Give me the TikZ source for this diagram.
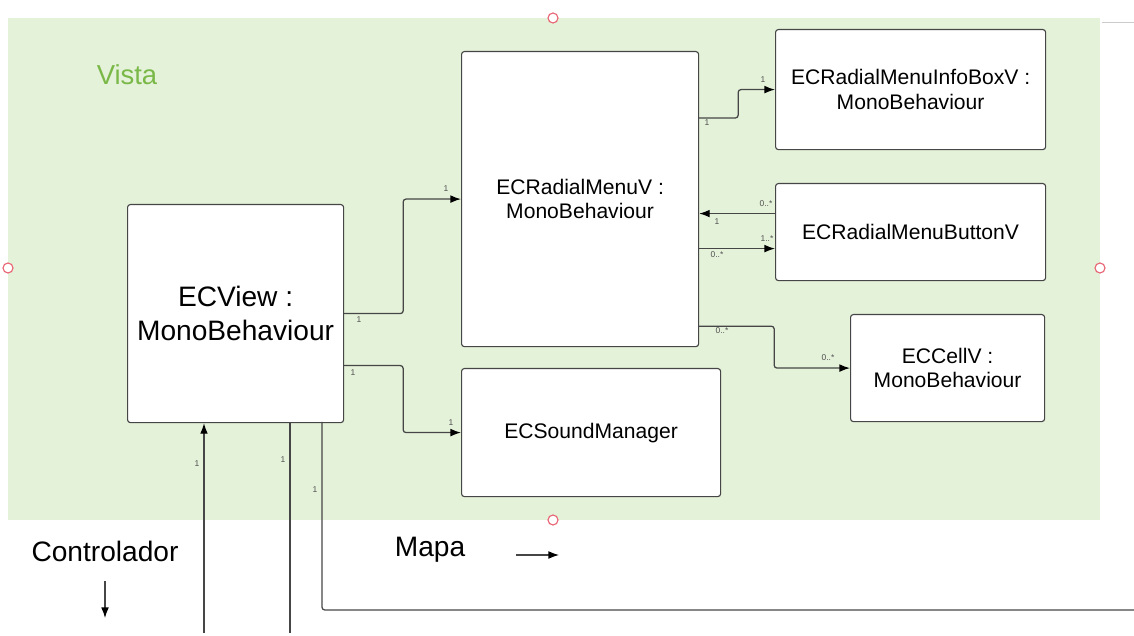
\documentclass[tikz,border=0pt]{standalone}
\usepackage{fontspec}
\setmainfont{Liberation Sans}
\usetikzlibrary{arrows.meta,calc}
\definecolor{bggreen}{RGB}{229,242,218}
\definecolor{vistagreen}{RGB}{122,184,72}
\definecolor{linegray}{RGB}{70,70,70}
\definecolor{handlered}{RGB}{232,100,115}
\definecolor{labelgray}{RGB}{80,80,80}
\tikzset{
  box/.style={draw=linegray, line width=0.8pt, fill=white, rounded corners=2pt, anchor=north west, align=center, inner sep=2pt},
  bigtext/.style={font=\fontsize{20}{24}\selectfont},
  midtext/.style={font=\fontsize{15}{17.5}\selectfont},
  conn/.style={draw=linegray, line width=0.9pt, rounded corners=2pt, -{Latex[length=7.5pt,width=5.5pt,color=black,fill=black]}},
  plainconn/.style={draw=linegray, line width=0.9pt, rounded corners=2pt},
  lbl/.style={font=\fontsize{6}{7}\selectfont, text=labelgray, inner sep=0pt},
  handle/.style={draw=handlered, line width=0.8pt, fill=white},
  legend/.style={font=\fontsize{20}{24}\selectfont, inner sep=0pt}
}
\begin{document}
\begin{tikzpicture}[x=0.025cm,y=-0.025cm]
\useasboundingbox (0,0) rectangle (1134,636);
% background
\fill[bggreen] (8,18) rectangle (1100,520);
\draw[black!20, line width=0.6pt] (1102,22) -- (1134,22);
\node[text=vistagreen, font=\fontsize{19.5}{22}\selectfont, inner sep=0pt] (vista) at (127,75) {Vista};

% boxes
\node[box, bigtext, minimum width=5.4cm, minimum height=5.45cm] (ecv) at (127,204) {ECView :\\MonoBehaviour};
\node[box, midtext, minimum width=5.925cm, minimum height=7.375cm] (rmv) at (461,51) {ECRadialMenuV :\\MonoBehaviour};
\node[box, midtext, minimum width=6.475cm, minimum height=3.2cm] (snd) at (461,368) {ECSoundManager};
\node[box, midtext, minimum width=6.75cm, minimum height=3.0cm] (info) at (775,29) {ECRadialMenuInfoBoxV :\\MonoBehaviour};
\node[box, midtext, minimum width=6.75cm, minimum height=2.425cm] (btn) at (775,183) {ECRadialMenuButtonV};
\node[box, midtext, minimum width=4.85cm, minimum height=2.675cm] (cell) at (850,314) {ECCellV :\\MonoBehaviour};

% connectors
\draw[conn] (ecv.east) -- ++(59,0) |- (rmv.west);
\coordinate (e2) at ($(ecv.east)+(0,52)$);
\draw[conn] (e2) -- ++(59,0) |- (snd.west);
\coordinate (r1) at ($(rmv.north east)+(0,67)$);
\draw[conn] (r1) -- ++(39,0) |- (info.west);
\coordinate (b1) at ($(btn.west)+(0,-18.5)$);
\draw[conn] (b1) -- (b1 -| rmv.east);
\coordinate (r2) at ($(rmv.east)+(0,49.5)$);
\draw[conn] (r2) -- (r2 -| btn.west);
\coordinate (r3) at ($(rmv.south east)+(0,-21)$);
\draw[conn] (r3) -- ++(75,0) |- (cell.west);

% lines from below
\coordinate (c1) at (204,633);
\draw[conn] (c1) -- (c1 |- ecv.south);
\coordinate (c2) at (290,633);
\draw[plainconn] (c2 |- ecv.south) -- (c2);
\coordinate (c3a) at (322,422);
\coordinate (c3) at (1134,610);
\draw[plainconn] (c3a) |- (c3);

% multiplicity labels
\node[lbl] (l1) at (359,320) {1};
\node[lbl] (l2) at (446,189) {1};
\node[lbl] (l3) at (353,373) {1};
\node[lbl] (l4) at (451,423) {1};
\node[lbl] (l5) at (707,123) {1};
\node[lbl] (l6) at (763,80) {1};
\node[lbl] (l7) at (766,204) {0..*};
\node[lbl] (l8) at (717,222) {1};
\node[lbl] (l9) at (767,239) {1..*};
\node[lbl] (l10) at (717,255) {0..*};
\node[lbl] (l11) at (722,331) {0..*};
\node[lbl] (l12) at (828,358) {0..*};
\node[lbl] (l13) at (197,464) {1};
\node[lbl] (l14) at (283,460) {1};
\node[lbl] (l15) at (315,490) {1};

% handles
\draw[handle] (553,18) circle (5);
\draw[handle] (8,268) circle (5);
\draw[handle] (1100,268) circle (5);
\draw[handle] (553,520) circle (5);

% legend
\node[legend] (ctrl) at (105,551) {Controlador};
\node[legend] (mapa) at (430,550) {Mapa};
\coordinate (ca) at (105,581);
\coordinate (cb) at (105,618);
\draw[conn, line width=0.8pt] (ca) -- (cb);
\coordinate (ma) at (516,555);
\coordinate (mb) at (559,555);
\draw[conn, line width=0.8pt] (ma) -- (mb);
\end{tikzpicture}
\end{document}
